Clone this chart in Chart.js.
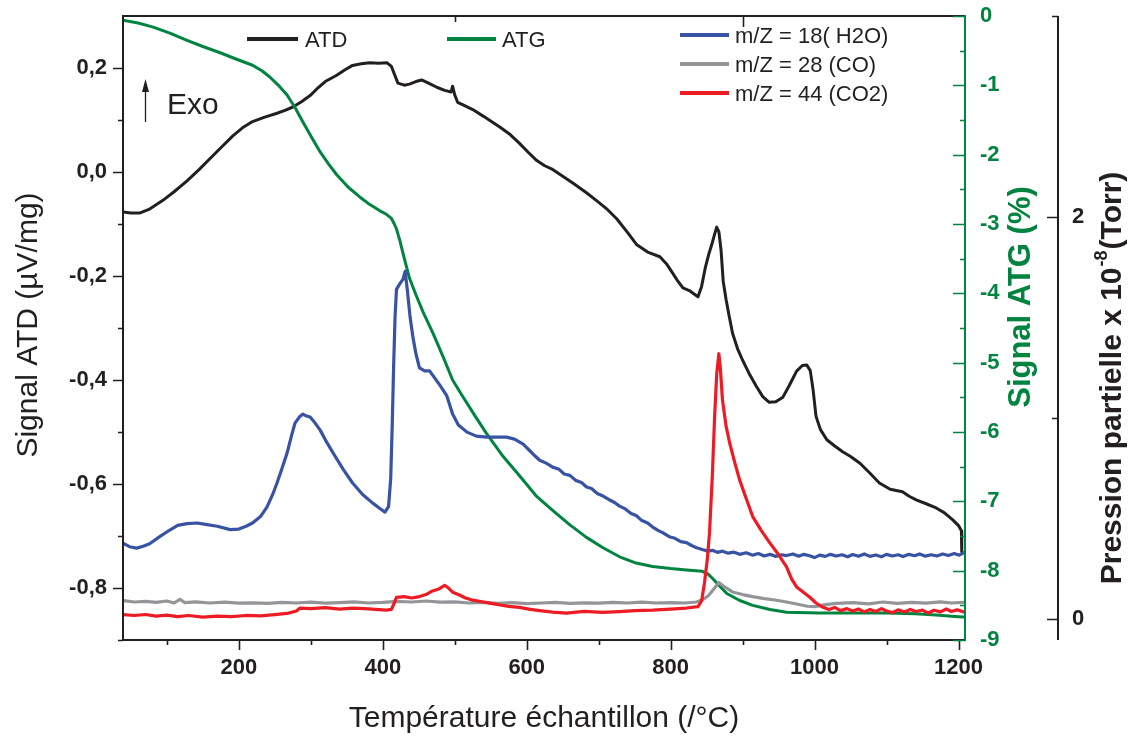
<!DOCTYPE html>
<html>
<head>
<meta charset="utf-8">
<script src="https://cdn.jsdelivr.net/npm/chart.js@4.4.1/dist/chart.umd.min.js"></script>
<style>
  html, body { margin: 0; padding: 0; background: #ffffff; }
  #c { display: block; }
</style>
</head>
<body>
<canvas id="c" width="1134" height="738"></canvas>
<script>
// ---------- DATA ----------
const xTickValues = [200, 400, 600, 800, 1000, 1200];
const atdTickValues = [-0.8, -0.6, -0.4, -0.2, 0.0, 0.2];
const atgTickValues = [0, -1, -2, -3, -4, -5, -6, -7, -8, -9];
const pressTickValues = [0, 2];

// ATD signal (µV/mg) - left axis
const atdT = [39,50,62,75,94,110,128,145,160,176,192,205,219,235,253,265,275,287,299,310,320,336,347,358,370,382,394,406,412,417,421,430,437,446,454,465,475,486,495,497,500,504,513,525,540,552,563,577,590,602,614,625,636,650,665,683,697,712,725,740,753,768,785,795,803,810,817,826,833,838,843,848,853,857,861,864,867,870,873,877,881,886,893,900,910,919,928,937,946,956,965,975,983,989,994,998,1002,1008,1017,1028,1039,1050,1063,1076,1090,1105,1122,1132,1142,1155,1169,1180,1192,1200,1204,1204.5];
const atdV = [-0.077,-0.079,-0.079,-0.072,-0.055,-0.038,-0.017,0.005,0.026,0.048,0.070,0.085,0.097,0.105,0.113,0.119,0.125,0.135,0.147,0.162,0.174,0.186,0.196,0.205,0.208,0.210,0.209,0.210,0.203,0.185,0.171,0.167,0.169,0.174,0.177,0.170,0.163,0.157,0.154,0.165,0.148,0.134,0.128,0.120,0.107,0.096,0.086,0.072,0.055,0.038,0.022,0.012,0.005,-0.008,-0.022,-0.040,-0.055,-0.072,-0.090,-0.116,-0.140,-0.154,-0.163,-0.178,-0.195,-0.210,-0.223,-0.228,-0.235,-0.240,-0.220,-0.185,-0.158,-0.140,-0.120,-0.106,-0.115,-0.150,-0.210,-0.245,-0.275,-0.310,-0.340,-0.362,-0.390,-0.412,-0.432,-0.443,-0.442,-0.433,-0.410,-0.383,-0.372,-0.371,-0.382,-0.420,-0.470,-0.495,-0.515,-0.527,-0.538,-0.547,-0.560,-0.578,-0.598,-0.610,-0.615,-0.624,-0.631,-0.638,-0.646,-0.655,-0.669,-0.680,-0.690,-0.730];

// ATG signal (%) - green axis
const atgT = [39,60,81,105,128,150,174,196,219,232,243,255,267,278,289,301,313,325,336,352,368,382,396,405,412,416,419,424,428,437,446,456,470,484,497,510,527,544,567,590,613,636,660,683,706,729,752,775,800,822,844,852,858,866,878,896,914,938,961,1007,1050,1100,1140,1169,1195,1207];
const atgV = [-0.06,-0.10,-0.16,-0.25,-0.35,-0.44,-0.53,-0.62,-0.71,-0.79,-0.88,-1.00,-1.14,-1.32,-1.53,-1.75,-1.96,-2.14,-2.29,-2.47,-2.61,-2.72,-2.81,-2.86,-2.92,-3.00,-3.07,-3.25,-3.42,-3.78,-4.02,-4.27,-4.58,-4.92,-5.25,-5.47,-5.75,-6.02,-6.35,-6.63,-6.92,-7.13,-7.34,-7.52,-7.67,-7.80,-7.89,-7.94,-7.97,-7.99,-8.01,-8.05,-8.11,-8.20,-8.33,-8.43,-8.50,-8.56,-8.60,-8.61,-8.61,-8.61,-8.62,-8.64,-8.66,-8.67];

// m/Z = 18 (H2O) - partial pressure x 1e-8 Torr
const h2oT = [39,48,58,67,76,90,104,115,128,142,156,170,188,200,210,219,230,239,247,253,260,267,273,278,284,289,294,299,306,313,322,331,345,358,372,386,396,403,408,411,413,415,417,419,424,428,431,434,438,442,446,451,458,465,472,480,489,497,505,517,530,544,558,572,583,595,605,612,618,627,636,645,652,660,668,676,683,690,698,706,714,722,729,737,745,752,760,768,775,783,790,798,806,814,822,829,836,845,852,858,865,872,880,888,896,905,914,922,930,938,946,954,961,970,978,985,993,1000,1007,1015,1022,1030,1038,1046,1053,1061,1069,1077,1085,1093,1100,1108,1116,1123,1131,1139,1146,1154,1162,1170,1178,1186,1194,1201,1207];
const h2oV = [0.378,0.360,0.353,0.362,0.375,0.410,0.443,0.466,0.475,0.478,0.470,0.462,0.445,0.448,0.462,0.478,0.510,0.557,0.620,0.677,0.750,0.826,0.910,0.975,1.005,1.020,1.010,1.005,0.975,0.940,0.880,0.826,0.745,0.677,0.620,0.577,0.550,0.532,0.560,0.700,0.950,1.250,1.500,1.640,1.670,1.690,1.730,1.640,1.500,1.400,1.320,1.250,1.235,1.235,1.200,1.160,1.110,1.020,0.965,0.930,0.910,0.905,0.905,0.905,0.895,0.870,0.835,0.810,0.790,0.776,0.756,0.745,0.722,0.715,0.690,0.680,0.657,0.650,0.625,0.612,0.595,0.580,0.562,0.548,0.525,0.515,0.490,0.478,0.458,0.440,0.428,0.410,0.402,0.385,0.380,0.366,0.355,0.345,0.338,0.342,0.332,0.338,0.328,0.333,0.322,0.330,0.318,0.326,0.314,0.322,0.312,0.320,0.316,0.324,0.313,0.322,0.315,0.306,0.318,0.312,0.322,0.314,0.320,0.310,0.321,0.313,0.324,0.312,0.319,0.310,0.322,0.314,0.320,0.311,0.322,0.315,0.324,0.313,0.320,0.314,0.324,0.316,0.326,0.318,0.330];

// m/Z = 28 (CO)
const coT = [39,55,70,85,100,110,118,125,140,160,180,200,220,240,260,280,300,320,340,360,380,400,420,440,460,480,500,520,540,560,580,600,620,640,660,680,700,720,740,760,780,800,820,836,845,852,860,867,875,886,900,914,930,945,961,975,990,1000,1015,1030,1053,1075,1095,1115,1135,1155,1175,1190,1207];
const coV = [0.092,0.085,0.088,0.083,0.090,0.080,0.098,0.082,0.086,0.080,0.084,0.079,0.081,0.078,0.083,0.080,0.084,0.079,0.082,0.086,0.080,0.083,0.088,0.085,0.090,0.084,0.086,0.080,0.083,0.078,0.082,0.077,0.080,0.083,0.078,0.081,0.079,0.083,0.080,0.084,0.080,0.082,0.080,0.085,0.098,0.115,0.150,0.182,0.160,0.135,0.122,0.112,0.102,0.095,0.085,0.075,0.064,0.062,0.072,0.078,0.082,0.076,0.085,0.078,0.083,0.079,0.086,0.080,0.083];

// m/Z = 44 (CO2)
const co2T = [39,55,70,85,100,115,130,150,170,190,210,230,250,267,280,285,300,320,340,358,375,390,405,412,416,419,430,440,451,460,469,478,486,492,497,505,515,525,540,550,563,575,590,605,618,636,655,680,705,729,750,775,800,822,838,843,847,851,854,858,861,864,867,869,872,877,882,889,896,905,914,926,938,950,961,968,975,984,993,1002,1011,1020,1028,1036,1045,1053,1061,1069,1077,1085,1093,1100,1108,1116,1125,1133,1141,1150,1158,1166,1175,1183,1190,1198,1207];
const co2V = [0.022,0.018,0.023,0.015,0.020,0.012,0.018,0.010,0.015,0.012,0.018,0.016,0.022,0.028,0.040,0.055,0.052,0.057,0.050,0.055,0.052,0.048,0.045,0.048,0.080,0.108,0.112,0.105,0.112,0.122,0.140,0.150,0.168,0.152,0.134,0.122,0.105,0.094,0.085,0.078,0.070,0.063,0.058,0.048,0.042,0.035,0.030,0.038,0.033,0.037,0.042,0.045,0.050,0.055,0.062,0.090,0.180,0.300,0.430,0.720,1.000,1.220,1.320,1.250,1.090,0.960,0.876,0.780,0.690,0.600,0.510,0.440,0.378,0.320,0.260,0.200,0.160,0.135,0.110,0.080,0.060,0.048,0.058,0.042,0.052,0.040,0.050,0.036,0.048,0.038,0.052,0.040,0.032,0.046,0.035,0.048,0.038,0.045,0.030,0.044,0.036,0.050,0.038,0.046,0.036];

// ---------- STYLE ----------
const C_BLACK = '#231f20', C_GREEN = '#00843f', C_BLUE = '#3953a4', C_GRAY = '#939598', C_RED = '#ed1c24';
const FONT = '"Liberation Sans", Arial, Helvetica, sans-serif';

function pts(xs, ys) { return xs.map((x, i) => ({ x: x, y: ys[i] })); }

function noPad(s) { s.paddingTop = 0; s.paddingBottom = 0; s.paddingLeft = 0; s.paddingRight = 0; }

const decorPlugin = {
  id: 'decor',
  afterDatasetsDraw(chart) {
    const ctx = chart.ctx;
    const a = chart.chartArea;
    const sx = chart.scales.x, sy = chart.scales.y, sy2 = chart.scales.y2, sy3 = chart.scales.y3;
    ctx.save();
    ctx.lineCap = 'butt';
    // frame (black): left, bottom, top
    ctx.strokeStyle = C_BLACK; ctx.lineWidth = 2;
    ctx.beginPath();
    ctx.moveTo(a.left, a.top); ctx.lineTo(a.left, a.bottom);
    ctx.moveTo(a.left - 1, a.bottom); ctx.lineTo(a.right, a.bottom);
    ctx.moveTo(a.left - 1, a.top); ctx.lineTo(a.right, a.top);
    ctx.stroke();
    // x ticks
    ctx.lineWidth = 1.6;
    ctx.beginPath();
    for (let v = 100; v <= 1200; v += 100) {
      const p = Math.round(sx.getPixelForValue(v)) + 0.5;
      const len = (v % 200 === 0) ? 10 : 5;
      ctx.moveTo(p, a.bottom); ctx.lineTo(p, a.bottom + len);
    }
    // top inner ticks
    [[500, 6], [900, 11]].forEach(([v, len]) => {
      const p = Math.round(sx.getPixelForValue(v)) + 0.5;
      ctx.moveTo(p, a.top); ctx.lineTo(p, a.top + len);
    });
    // left y ticks
    for (let i = -9; i <= 2; i++) {
      const v = i / 10;
      const p = Math.round(sy.getPixelForValue(v)) + 0.5;
      const len = (Math.abs(i) % 2 === 0) ? 10 : 5;
      ctx.moveTo(a.left, p); ctx.lineTo(a.left - len, p);
    }
    ctx.stroke();
    // green ATG axis
    ctx.strokeStyle = C_GREEN; ctx.lineWidth = 2;
    ctx.beginPath();
    ctx.moveTo(a.right, a.top - 1); ctx.lineTo(a.right, a.bottom + 1);
    ctx.stroke();
    ctx.lineWidth = 1.6;
    ctx.beginPath();
    for (let i = 0; i <= 18; i++) {
      const v = -i / 2;
      const p = Math.round(sy2.getPixelForValue(v)) + 0.5;
      const len = (i % 2 === 0) ? 12 : 5;
      ctx.moveTo(a.right, p); ctx.lineTo(a.right - len, p);
    }
    ctx.stroke();
    // pressure axis
    const px = sy3.left;
    ctx.strokeStyle = C_BLACK; ctx.lineWidth = 2;
    ctx.beginPath();
    ctx.moveTo(px, a.top); ctx.lineTo(px, a.bottom);
    ctx.stroke();
    ctx.lineWidth = 1.6;
    ctx.beginPath();
    [0, 1, 2, 3].forEach(v => {
      const p = Math.round(sy3.getPixelForValue(v)) + 0.5;
      const len = (v % 2 === 0) ? 11 : 6;
      ctx.moveTo(px, p); ctx.lineTo(px - len, p);
    });
    ctx.stroke();

    // legend
    ctx.lineWidth = 4;
    const legendLine = (x1, x2, y, col) => {
      ctx.strokeStyle = col; ctx.beginPath(); ctx.moveTo(x1, y); ctx.lineTo(x2, y); ctx.stroke();
    };
    ctx.font = '22px ' + FONT; ctx.fillStyle = C_BLACK; ctx.textBaseline = 'middle'; ctx.textAlign = 'left';
    legendLine(247, 298, 39, C_BLACK); ctx.fillText('ATD', 305, 41);
    legendLine(447, 496, 39, C_GREEN); ctx.fillText('ATG', 502, 41);
    legendLine(680, 729, 35, C_BLUE); ctx.fillText('m/Z = 18( H2O)', 735, 37);
    legendLine(680, 729, 64, C_GRAY); ctx.fillText('m/Z = 28 (CO)', 735, 66);
    legendLine(680, 729, 93, C_RED); ctx.fillText('m/Z = 44 (CO2)', 735, 95);

    // Exo arrow
    ctx.strokeStyle = C_BLACK; ctx.lineWidth = 1.3;
    ctx.beginPath(); ctx.moveTo(145.5, 122); ctx.lineTo(145.5, 90); ctx.stroke();
    ctx.fillStyle = C_BLACK;
    ctx.beginPath(); ctx.moveTo(145.5, 79); ctx.lineTo(149, 92); ctx.lineTo(142, 92); ctx.closePath(); ctx.fill();
    ctx.font = '30px ' + FONT; ctx.textBaseline = 'middle';
    ctx.fillText('Exo', 167, 106);

    // axis titles
    ctx.font = '30px ' + FONT; ctx.textAlign = 'center'; ctx.fillStyle = C_BLACK;
    ctx.fillText('Température échantillon (/°C)', (a.left + a.right) / 2, 719);
    ctx.save();
    ctx.translate(29, 325); ctx.rotate(-Math.PI / 2);
    ctx.fillText('Signal ATD (µV/mg)', 0, 0);
    ctx.restore();
    ctx.save();
    ctx.fillStyle = C_GREEN; ctx.font = 'bold 31px ' + FONT;
    ctx.translate(1021, 297); ctx.rotate(-Math.PI / 2);
    ctx.fillText('Signal ATG (%)', 0, 0);
    ctx.restore();
    // pressure title with superscript
    ctx.save();
    ctx.fillStyle = C_BLACK; ctx.textAlign = 'left';
    const mainF = 'bold 30px ' + FONT, supF = 'bold 18px ' + FONT;
    const s1 = 'Pression partielle x 10', s2 = '-8', s3 = '(Torr)';
    ctx.font = mainF; const w1 = ctx.measureText(s1).width, w3 = ctx.measureText(s3).width;
    ctx.font = supF; const w2 = ctx.measureText(s2).width + 2;
    const total = w1 + w2 + w3;
    ctx.translate(1113, 378); ctx.rotate(-Math.PI / 2);
    let x0 = -total / 2;
    ctx.font = mainF; ctx.fillText(s1, x0, 0);
    ctx.font = supF; ctx.fillText(s2, x0 + w1 + 1, -11);
    ctx.font = mainF; ctx.fillText(s3, x0 + w1 + w2, 0);
    ctx.restore();
    ctx.restore();
  }
};

const tickFont = { family: FONT, size: 22, weight: 'bold' };

new Chart(document.getElementById('c'), {
  type: 'line',
  data: {
    datasets: [
      { label: 'm/Z = 44 (CO2)', data: pts(co2T, co2V), yAxisID: 'y3', borderColor: C_RED, borderWidth: 3.2, order: 1 },
      { label: 'm/Z = 28 (CO)', data: pts(coT, coV), yAxisID: 'y3', borderColor: C_GRAY, borderWidth: 3.2, order: 2 },
      { label: 'm/Z = 18( H2O)', data: pts(h2oT, h2oV), yAxisID: 'y3', borderColor: C_BLUE, borderWidth: 3.2, order: 3 },
      { label: 'ATG', data: pts(atgT, atgV), yAxisID: 'y2', borderColor: C_GREEN, borderWidth: 3, order: 4 },
      { label: 'ATD', data: pts(atdT, atdV), yAxisID: 'y', borderColor: C_BLACK, borderWidth: 3, order: 5 }
    ]
  },
  options: {
    responsive: false,
    animation: false,
    elements: { point: { radius: 0 }, line: { tension: 0, fill: false, borderJoinStyle: 'round', borderCapStyle: 'round' } },
    layout: { padding: { top: 16, left: 0, right: 0, bottom: 0 } },
    plugins: { legend: { display: false }, tooltip: { enabled: false } },
    scales: {
      x: {
        type: 'linear', position: 'bottom', min: 39, max: 1209,
        afterBuildTicks: s => { s.ticks = xTickValues.map(v => ({ value: v })); },
        afterFit: s => { s.height = 98; noPad(s); },
        grid: { display: false, drawTicks: false }, border: { display: false },
        ticks: { font: tickFont, color: C_BLACK, padding: 15, autoSkip: false, maxRotation: 0, callback: v => String(v) }
      },
      y: {
        type: 'linear', position: 'left', min: -0.9, max: 0.3,
        afterBuildTicks: s => { s.ticks = atdTickValues.map(v => ({ value: v })); },
        afterFit: s => { s.width = 123; noPad(s); },
        grid: { display: false, drawTicks: false }, border: { display: false },
        ticks: { font: tickFont, color: C_BLACK, padding: 16, autoSkip: false,
                 callback: v => (Math.abs(v) < 1e-9 ? '0,0' : v.toFixed(1).replace('.', ',')) }
      },
      y2: {
        type: 'linear', position: 'right', min: -9, max: 0, weight: 0,
        afterBuildTicks: s => { s.ticks = atgTickValues.map(v => ({ value: v })); },
        afterFit: s => { s.width = 93; noPad(s); },
        grid: { display: false, drawTicks: false }, border: { display: false },
        ticks: { font: tickFont, color: C_GREEN, padding: 15, autoSkip: false, callback: v => String(v) }
      },
      y3: {
        type: 'linear', position: 'right', min: -0.104, max: 3.0, weight: 1,
        afterBuildTicks: s => { s.ticks = pressTickValues.map(v => ({ value: v })); },
        afterFit: s => { s.width = 76; noPad(s); },
        grid: { display: false, drawTicks: false }, border: { display: false },
        ticks: { font: tickFont, color: C_BLACK, padding: 14, autoSkip: false, callback: v => String(v) }
      }
    }
  },
  plugins: [decorPlugin]
});
</script>
</body>
</html>
